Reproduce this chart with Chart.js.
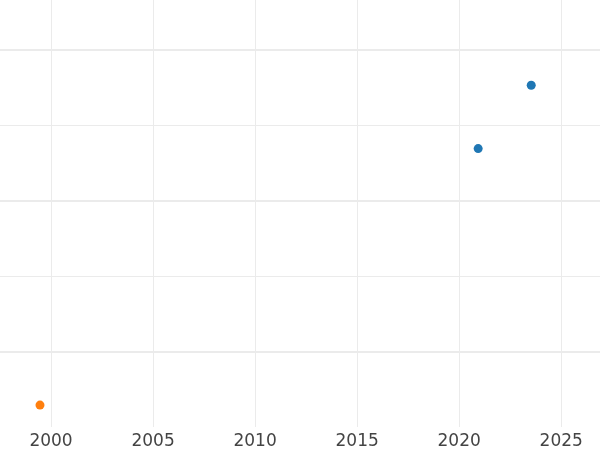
<!DOCTYPE html>
<html lang="en">
<head>
    <meta charset="UTF-8">
    <title>Scatter</title>
    <script src="https://cdn.jsdelivr.net/npm/chart.js"></script>
    <style>
        html, body { margin: 0; padding: 0; background: #fff; }
        #wrap { width: 600px; height: 450px; }
    </style>
</head>
<body>
    <div id="wrap"><canvas id="chart"></canvas></div>
    <script>
        // Data
        const blueYears = [2020.93, 2023.53];
        const blueValues = [1.345, 1.765];
        const orangeYears = [1999.46];
        const orangeValues = [-0.355];
        const xTicks = [2000, 2005, 2010, 2015, 2020, 2025];
        const yTicks = [-0.5, 0, 0.5, 1, 1.5, 2];

        function toPoints(xs, ys) {
            return xs.map((x, i) => ({ x: x, y: ys[i] }));
        }

        new Chart(document.getElementById('chart'), {
            type: 'scatter',
            data: {
                datasets: [
                    {
                        data: toPoints(blueYears, blueValues),
                        backgroundColor: '#1f77b4',
                        borderColor: '#1f77b4',
                        pointRadius: 4.5,
                        pointBorderWidth: 0
                    },
                    {
                        data: toPoints(orangeYears, orangeValues),
                        backgroundColor: '#ff7f0e',
                        borderColor: '#ff7f0e',
                        pointRadius: 4.5,
                        pointBorderWidth: 0
                    }
                ]
            },
            options: {
                responsive: true,
                maintainAspectRatio: false,
                animation: false,
                layout: { padding: 0, autoPadding: false },
                plugins: {
                    legend: { display: false },
                    tooltip: { enabled: false }
                },
                scales: {
                    x: {
                        type: 'linear',
                        min: 1997.5,
                        max: 2026.9,
                        afterBuildTicks: (axis) => {
                            axis.ticks = xTicks.map(v => ({ value: v }));
                        },
                        afterFit: (axis) => { axis.height = 23; },
                        border: { display: false },
                        grid: { color: '#ebebeb', lineWidth: 1, drawTicks: false },
                        ticks: {
                            color: '#444',
                            padding: 4,
                            font: { family: 'DejaVu Sans', size: 17 },
                            callback: (v) => String(v)
                        }
                    },
                    y: {
                        type: 'linear',
                        min: -0.5,
                        max: 2.33,
                        afterBuildTicks: (axis) => {
                            axis.ticks = yTicks.map(v => ({ value: v }));
                        },
                        border: { display: false },
                        grid: {
                            drawTicks: false,
                            color: (ctx) => ctx.tick && ctx.tick.value === -0.5 ? 'rgba(0,0,0,0)' : '#ebebeb',
                            lineWidth: (ctx) => ctx.tick && Number.isInteger(ctx.tick.value) ? 2 : 1
                        },
                        ticks: { display: false }
                    }
                }
            }
        });
    </script>
</body>
</html>
